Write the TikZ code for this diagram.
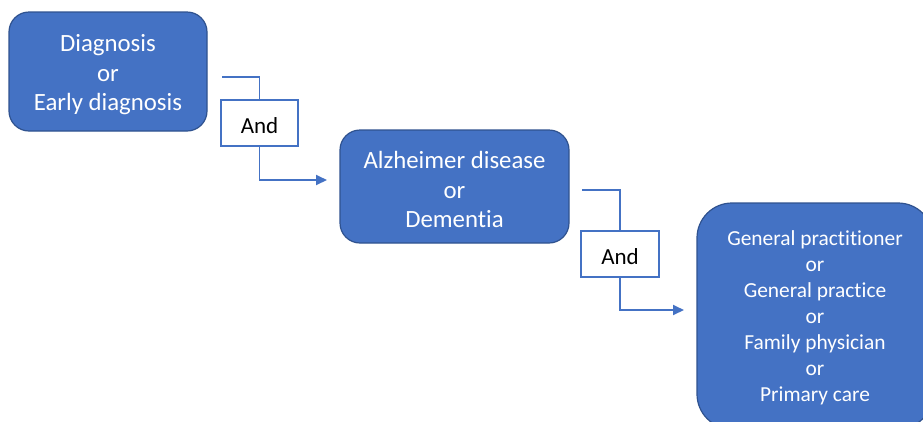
\documentclass[tikz,border=0pt]{standalone}
\usepackage{fontspec}
\setmainfont{Carlito}[Ligatures=NoCommon]
\usetikzlibrary{arrows.meta}
\definecolor{bluefill}{HTML}{4472C4}
\definecolor{blueline}{HTML}{2F528F}
\tikzset{
  bluebox/.style={draw=blueline, line width=1.2pt, fill=bluefill, inner sep=0pt},
  bluetext/.style={text=white, align=center, inner sep=0pt},
  andbox/.style={draw=bluefill, line width=1.8pt, fill=white, text=black, inner sep=0pt, text height=21pt, text depth=0pt, font=\fontsize{23}{27}\selectfont},
  conn/.style={draw=bluefill, line width=1.8pt},
  arr/.style={conn, -{Triangle[length=11pt,width=10pt]}}
}
\begin{document}
\begin{tikzpicture}[x=1pt,y=-1pt]
\useasboundingbox (0,0) rectangle (923,421);
\begin{scope}
\clip (0,0) rectangle (923,421);
\node[bluebox, rounded corners=20pt, minimum width=198pt, minimum height=119pt] (b1) at (108,71.5) {};
\node[bluebox, rounded corners=20pt, minimum width=229pt, minimum height=113pt] (b2) at (454.5,186.5) {};
\node[bluebox, rounded corners=35pt, minimum width=236pt, minimum height=226pt] (b3) at (815,316) {};
\end{scope}
\node[bluetext, font=\fontsize{24.8}{29.5}\selectfont] (t1) at ([yshift=-3.5pt]b1.center) {Diagnosis\\or\\Early diagnosis};
\node[bluetext, font=\fontsize{24.8}{29.5}\selectfont] (t2) at ([yshift=-3pt]b2.center) {Alzheimer disease\\or\\Dementia};
\node[bluetext, font=\fontsize{21.4}{26}\selectfont] (t3) at ([yshift=-2pt]b3.center) {General practitioner\\or\\General practice\\or\\Family physician\\or\\Primary care};
\node[andbox, minimum width=77pt, minimum height=46pt] (a1) at (259.5,123) {And};
\node[andbox, minimum width=78pt, minimum height=46pt] (a2) at (620,254) {And};
\coordinate (s1) at (222,77);
\coordinate (e1) at (327,180);
\coordinate (s2) at (582,190);
\coordinate (e2) at (684,310);
\draw[conn] (s1) -| (a1.north);
\draw[arr] (a1.south) |- (e1);
\draw[conn] (s2) -| (a2.north);
\draw[arr] (a2.south) |- (e2);
\end{tikzpicture}
\end{document}
